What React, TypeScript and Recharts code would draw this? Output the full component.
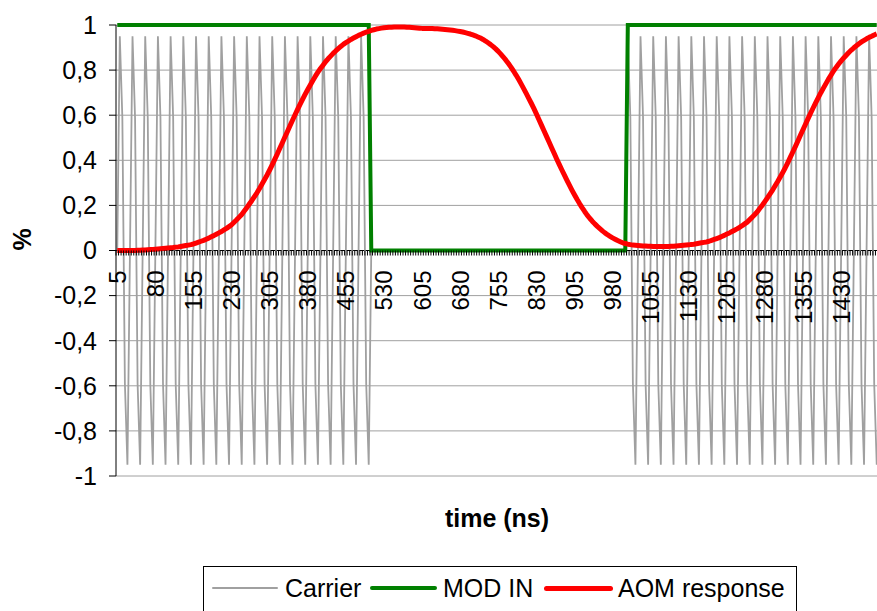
import { LineChart, Line, XAxis, YAxis, CartesianGrid, Legend, ReferenceLine } from "recharts"

// values, one per 5 ns sample (5 ... 1500 ns)
const CARRIER = [
  0, 0.95, 0.59, -0.59, -0.95, 0, 0.95, 0.59, -0.59, -0.95,
  0, 0.95, 0.59, -0.59, -0.95, 0, 0.95, 0.59, -0.59, -0.95,
  0, 0.95, 0.59, -0.59, -0.95, 0, 0.95, 0.59, -0.59, -0.95,
  0, 0.95, 0.59, -0.59, -0.95, 0, 0.95, 0.59, -0.59, -0.95,
  0, 0.95, 0.59, -0.59, -0.95, 0, 0.95, 0.59, -0.59, -0.95,
  0, 0.95, 0.59, -0.59, -0.95, 0, 0.95, 0.59, -0.59, -0.95,
  0, 0.95, 0.59, -0.59, -0.95, 0, 0.95, 0.59, -0.59, -0.95,
  0, 0.95, 0.59, -0.59, -0.95, 0, 0.95, 0.59, -0.59, -0.95,
  0, 0.95, 0.59, -0.59, -0.95, 0, 0.95, 0.59, -0.59, -0.95,
  0, 0.95, 0.59, -0.59, -0.95, 0, 0.95, 0.59, -0.59, -0.95,
  0, 0, 0, 0, 0, 0, 0, 0, 0, 0, 0, 0, 0, 0, 0, 0, 0, 0, 0, 0,
  0, 0, 0, 0, 0, 0, 0, 0, 0, 0, 0, 0, 0, 0, 0, 0, 0, 0, 0, 0,
  0, 0, 0, 0, 0, 0, 0, 0, 0, 0, 0, 0, 0, 0, 0, 0, 0, 0, 0, 0,
  0, 0, 0, 0, 0, 0, 0, 0, 0, 0, 0, 0, 0, 0, 0, 0, 0, 0, 0, 0,
  0, 0, 0, 0, 0, 0, 0, 0, 0, 0, 0, 0, 0, 0, 0, 0, 0, 0, 0, 0,
  0,
  0.95, 0.59, -0.59, -0.95,
  0, 0.95, 0.59, -0.59, -0.95, 0, 0.95, 0.59, -0.59, -0.95,
  0, 0.95, 0.59, -0.59, -0.95, 0, 0.95, 0.59, -0.59, -0.95,
  0, 0.95, 0.59, -0.59, -0.95, 0, 0.95, 0.59, -0.59, -0.95,
  0, 0.95, 0.59, -0.59, -0.95, 0, 0.95, 0.59, -0.59, -0.95,
  0, 0.95, 0.59, -0.59, -0.95, 0, 0.95, 0.59, -0.59, -0.95,
  0, 0.95, 0.59, -0.59, -0.95, 0, 0.95, 0.59, -0.59, -0.95,
  0, 0.95, 0.59, -0.59, -0.95, 0, 0.95, 0.59, -0.59, -0.95,
  0, 0.95, 0.59, -0.59, -0.95, 0, 0.95, 0.59, -0.59, -0.95,
  0, 0.95, 0.59, -0.59, -0.95, 0, 0.95, 0.59, -0.59, -0.95,
  0, 0.95, 0.59, -0.59, -0.95,
]

const MOD_IN = [
  1, 1, 1, 1, 1, 1, 1, 1, 1, 1, 1, 1, 1, 1, 1, 1, 1, 1, 1, 1,
  1, 1, 1, 1, 1, 1, 1, 1, 1, 1, 1, 1, 1, 1, 1, 1, 1, 1, 1, 1,
  1, 1, 1, 1, 1, 1, 1, 1, 1, 1, 1, 1, 1, 1, 1, 1, 1, 1, 1, 1,
  1, 1, 1, 1, 1, 1, 1, 1, 1, 1, 1, 1, 1, 1, 1, 1, 1, 1, 1, 1,
  1, 1, 1, 1, 1, 1, 1, 1, 1, 1, 1, 1, 1, 1, 1, 1, 1, 1, 1, 1,
  0, 0, 0, 0, 0, 0, 0, 0, 0, 0, 0, 0, 0, 0, 0, 0, 0, 0, 0, 0,
  0, 0, 0, 0, 0, 0, 0, 0, 0, 0, 0, 0, 0, 0, 0, 0, 0, 0, 0, 0,
  0, 0, 0, 0, 0, 0, 0, 0, 0, 0, 0, 0, 0, 0, 0, 0, 0, 0, 0, 0,
  0, 0, 0, 0, 0, 0, 0, 0, 0, 0, 0, 0, 0, 0, 0, 0, 0, 0, 0, 0,
  0, 0, 0, 0, 0, 0, 0, 0, 0, 0, 0, 0, 0, 0, 0, 0, 0, 0, 0, 0,
  0,
  1, 1, 1, 1, 1, 1, 1, 1, 1, 1, 1, 1, 1, 1, 1, 1, 1, 1, 1, 1,
  1, 1, 1, 1, 1, 1, 1, 1, 1, 1, 1, 1, 1, 1, 1, 1, 1, 1, 1, 1,
  1, 1, 1, 1, 1, 1, 1, 1, 1, 1, 1, 1, 1, 1, 1, 1, 1, 1, 1, 1,
  1, 1, 1, 1, 1, 1, 1, 1, 1, 1, 1, 1, 1, 1, 1, 1, 1, 1, 1, 1,
  1, 1, 1, 1, 1, 1, 1, 1, 1, 1, 1, 1, 1, 1, 1, 1, 1, 1, 1,
]

const AOM_RESPONSE = [
  0, 0, 0, 0, 0, 0, 0, 0, 0.001, 0.001, 0.002, 0.002, 0.003, 0.004, 0.005, 0.006, 0.007, 0.008, 0.009, 0.01,
  0.011, 0.012, 0.013, 0.015, 0.016, 0.018, 0.02, 0.022, 0.024, 0.026, 0.029, 0.033, 0.037, 0.041, 0.045, 0.05, 0.055, 0.061, 0.066, 0.072,
  0.078, 0.084, 0.091, 0.098, 0.106, 0.114, 0.125, 0.136, 0.148, 0.16, 0.175, 0.19, 0.206, 0.222, 0.239, 0.256, 0.275, 0.295, 0.315, 0.335,
  0.357, 0.38, 0.404, 0.428, 0.453, 0.478, 0.503, 0.528, 0.553, 0.578, 0.602, 0.626, 0.649, 0.671, 0.693, 0.714, 0.734, 0.754, 0.773, 0.791,
  0.807, 0.822, 0.837, 0.85, 0.862, 0.874, 0.885, 0.895, 0.905, 0.914, 0.922, 0.929, 0.936, 0.942, 0.948, 0.954, 0.959, 0.964, 0.968, 0.972,
  0.976, 0.979, 0.982, 0.984, 0.986, 0.988, 0.989, 0.99, 0.99, 0.991, 0.991, 0.991, 0.991, 0.991, 0.99, 0.99, 0.989, 0.988, 0.987, 0.986,
  0.985, 0.985, 0.985, 0.984, 0.984, 0.983, 0.983, 0.982, 0.981, 0.98, 0.979, 0.978, 0.977, 0.975, 0.973, 0.971, 0.969, 0.966, 0.963, 0.96,
  0.956, 0.952, 0.947, 0.942, 0.936, 0.929, 0.921, 0.913, 0.904, 0.894, 0.883, 0.871, 0.858, 0.844, 0.829, 0.813, 0.796, 0.778, 0.759, 0.739,
  0.718, 0.697, 0.675, 0.653, 0.63, 0.606, 0.581, 0.556, 0.531, 0.506, 0.481, 0.456, 0.431, 0.406, 0.382, 0.358, 0.335, 0.312, 0.29, 0.268,
  0.247, 0.227, 0.208, 0.19, 0.173, 0.157, 0.143, 0.13, 0.118, 0.107, 0.097, 0.087, 0.078, 0.07, 0.063, 0.056, 0.05, 0.044, 0.039, 0.034,
  0.031, 0.028, 0.026, 0.024, 0.023, 0.022, 0.021, 0.02, 0.02, 0.019, 0.019, 0.018, 0.018, 0.018, 0.018, 0.018, 0.018, 0.018, 0.019, 0.019,
  0.02, 0.021, 0.022, 0.023, 0.024, 0.025, 0.027, 0.028, 0.03, 0.032, 0.034, 0.036, 0.038, 0.041, 0.045, 0.049, 0.053, 0.057, 0.062, 0.067,
  0.073, 0.078, 0.084, 0.09, 0.096, 0.103, 0.11, 0.118, 0.126, 0.137, 0.148, 0.16, 0.172, 0.187, 0.202, 0.218, 0.234, 0.251, 0.268, 0.287,
  0.306, 0.326, 0.346, 0.367, 0.39, 0.414, 0.438, 0.462, 0.487, 0.512, 0.537, 0.561, 0.586, 0.61, 0.633, 0.656, 0.678, 0.7, 0.72, 0.74,
  0.76, 0.778, 0.796, 0.812, 0.827, 0.841, 0.854, 0.866, 0.878, 0.889, 0.899, 0.908, 0.917, 0.925, 0.932, 0.939, 0.945, 0.95, 0.956, 0.961,
]

// time axis: 5 ns steps starting at 5, labelled every 75 ns
const TIME_START = 5
const TIME_STEP = 5
const LABEL_EVERY = 75
const TIME_NS = AOM_RESPONSE.map((_, i) => TIME_START + TIME_STEP * i)
const Y_TICKS = [-1, -0.8, -0.6, -0.4, -0.2, 0, 0.2, 0.4, 0.6, 0.8, 1]

const data = TIME_NS.map((t, i) => ({
  t,
  carrier: CARRIER[i],
  mod: MOD_IN[i],
  aom: AOM_RESPONSE[i],
}))

const W = 878
const H = 611
const TOP = 25
const AXIS_W = 116
const XAXIS_H = 60
const BOTTOM = 75
const PLOT_H = H - TOP - BOTTOM - XAXIS_H
const ZERO_Y = TOP + PLOT_H / 2
const STEP = (W - AXIS_W) / TIME_NS.length
const FONT = '"Liberation Sans", Arial, Helvetica, sans-serif'

const LEGEND_ITEMS = [
  { label: "Carrier", color: "#a0a0a0", thick: 2, lineLeft: 8, lineW: 66, textLeft: 81 },
  { label: "MOD IN", color: "#008000", thick: 4, lineLeft: 166, lineW: 67, textLeft: 239 },
  { label: "AOM response", color: "#ff0000", thick: 5, lineLeft: 340, lineW: 69, textLeft: 414 },
]

function TimeTick(props: any) {
  const { x, payload } = props
  const showLabel = (payload.value - TIME_START) % LABEL_EVERY === 0
  return (
    <g>
      <line x1={x - STEP / 2} x2={x - STEP / 2} y1={ZERO_Y} y2={ZERO_Y + 5} stroke="#000" />
      {showLabel && (
        <text
          transform={`translate(${x},${ZERO_Y + 20}) rotate(-90)`}
          textAnchor="end"
          dominantBaseline="central"
          fontSize={24}
          fontFamily={FONT}
          fill="#000"
        >
          {payload.value}
        </text>
      )}
    </g>
  )
}

function LegendBox() {
  return (
    <div
      style={{
        position: "relative",
        width: 594,
        height: 50,
        boxSizing: "border-box",
        border: "1px solid #000",
        background: "#fff",
        fontFamily: FONT,
        fontSize: 25,
        color: "#000",
      }}
    >
      {LEGEND_ITEMS.map(it => (
        <div key={it.label}>
          <div
            style={{
              position: "absolute",
              left: it.lineLeft,
              top: 21 - it.thick / 2,
              width: it.lineW,
              height: it.thick,
              borderRadius: it.thick / 2,
              background: it.color,
            }}
          />
          <div style={{ position: "absolute", left: it.textLeft, top: 6, lineHeight: "30px", whiteSpace: "nowrap" }}>
            {it.label}
          </div>
        </div>
      ))}
    </div>
  )
}

export default function App() {
  return (
    <div style={{ position: "absolute", left: 0, top: 0, width: 877, height: H, overflow: "hidden", background: "#fff" }}>
      <LineChart width={W} height={H} data={data} margin={{ top: TOP, right: 0, bottom: BOTTOM, left: 0 }}>
        <CartesianGrid vertical={false} stroke="#a0a0a0" />
        <XAxis
          dataKey="t"
          interval={0}
          axisLine={false}
          tickLine={false}
          height={XAXIS_H}
          padding={{ left: STEP / 2, right: STEP / 2 }}
          tick={TimeTick}
          label={{ value: "time (ns)", position: "insideBottom", offset: 9, fontSize: 25, fontWeight: "bold", fill: "#000", fontFamily: FONT }}
        />
        <YAxis
          width={AXIS_W}
          domain={[-1, 1]}
          ticks={Y_TICKS}
          interval={0}
          tickSize={7}
          tickMargin={12}
          axisLine={{ stroke: "#000" }}
          tickLine={{ stroke: "#000" }}
          tick={{ fontSize: 25, fill: "#000", fontFamily: FONT }}
          tickFormatter={(v: number) => String(v).replace(".", ",")}
          label={{ value: "%", angle: -90, position: "insideLeft", offset: 22, fontSize: 25, fontWeight: "bold", fill: "#000", fontFamily: FONT }}
        />
        <ReferenceLine y={0} stroke="#000" />
        <Legend
          layout="horizontal"
          verticalAlign="middle"
          align="center"
          wrapperStyle={{ left: 203, top: 566, width: 594, height: 50 }}
          content={() => <LegendBox />}
        />
        <Line type="linear" dataKey="carrier" name="Carrier" stroke="#a0a0a0" strokeWidth={1.8} dot={false} isAnimationActive={false} />
        <Line type="linear" dataKey="mod" name="MOD IN" stroke="#008000" strokeWidth={4} dot={false} isAnimationActive={false} />
        <Line type="linear" dataKey="aom" name="AOM response" stroke="#ff0000" strokeWidth={5} strokeLinejoin="round" dot={false} isAnimationActive={false} />
      </LineChart>
    </div>
  )
}
